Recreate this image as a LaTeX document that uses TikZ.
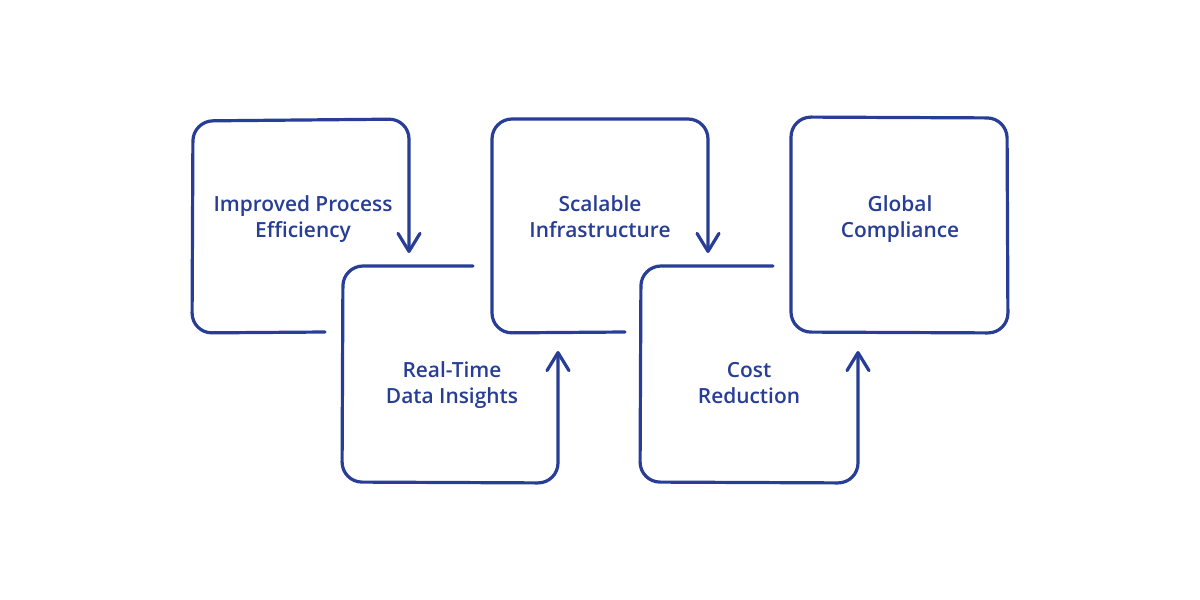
\documentclass[tikz,border=0pt]{standalone}
\usepackage{fontspec}
\IfFontExistsTF{Open Sans Semibold}{\newfontfamily\labfont{Open Sans Semibold}}{%
  \IfFontExistsTF{OpenSans-SemiBold}{\newfontfamily\labfont{OpenSans-SemiBold}}{%
    \newfontfamily\labfont{Open Sans}[UprightFont={* Bold}]}}
\usetikzlibrary{arrows.meta}
\definecolor{ink}{HTML}{283E96}
\tikzset{
  sketch/.style={draw=ink, line width=1.6pt, line cap=round, line join=round, rounded corners=10pt},
  barb/.style={-{Straight Barb[length=9pt,width=11pt,round]}},
  label/.style={text=ink, font=\labfont\fontsize{10.45}{12.7}\selectfont, align=center, inner sep=0pt, anchor=base}
}
\begin{document}
\begin{tikzpicture}[x=0.5pt,y=-0.5pt]
\useasboundingbox[fill=white] (0,0) rectangle (1200,600);
% box 1
\coordinate (a1s) at (325,332);
\coordinate (a1e) at (409,253);
\draw[sketch,barb] (a1s) -- (192,333) -- (193,121) -- (409,119) -- (a1e);
\node[label] (t1) at (303,237) {Improved Process\\Efficiency};
% box 2
\coordinate (a2s) at (473,266);
\coordinate (a2e) at (558,351);
\draw[sketch,barb] (a2s) -- (343,266) -- (342,482) -- (558,483) -- (a2e);
\node[label] (t2) at (452,403) {Real-Time\\Data Insights};
% box 3
\coordinate (a3s) at (625,332);
\coordinate (a3e) at (708,253);
\draw[sketch,barb] (a3s) -- (492,333) -- (492,119) -- (708,119) -- (a3e);
\node[label] (t3) at (600,237) {Scalable\\Infrastructure};
% box 4
\coordinate (a4s) at (773,266);
\coordinate (a4e) at (858,351);
\draw[sketch,barb] (a4s) -- (641,266) -- (640,482) -- (858,483) -- (a4e);
\node[label] (t4) at (749,403) {Cost\\Reduction};
% box 5
\draw[sketch] (791,117) -- (1007,118) -- (1008,333) -- (791,332) -- cycle;
\node[label] (t5) at (900,237) {Global\\Compliance};
\end{tikzpicture}
\end{document}
